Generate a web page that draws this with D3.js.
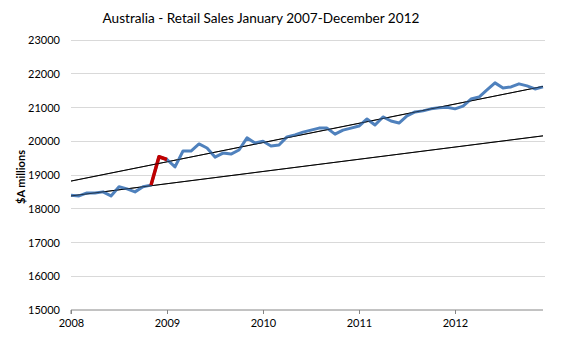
<!DOCTYPE html>
<html><head><meta charset="utf-8">
<script src="https://cdn.jsdelivr.net/npm/d3@7"></script>
<style>body{margin:0;background:#fff;} text{font-family:Lato,"Open Sans",sans-serif;}</style>
</head><body>
<svg id="c" width="567" height="340"></svg>
<script>
const title = "Australia - Retail Sales January 2007-December 2012";
const yLabel = "$A millions";
const yearLabels = ["2008","2009","2010","2011","2012"];
const yTicks = [15000,16000,17000,18000,19000,20000,21000,22000,23000];
// monthly values Jan 2008 .. Dec 2012
const sales = [18400,18380,18470,18470,18500,18380,18650,18590,18500,18650,
  18700,19540,19460,19240,19710,19710,19920,19800,19530,19650,
  19620,19740,20100,19950,20000,19860,19890,20130,20190,20270,
  20330,20390,20390,20210,20330,20390,20450,20660,20480,20720,
  20600,20540,20750,20870,20900,20960,20990,21010,20960,21040,
  21250,21310,21520,21730,21580,21610,21700,21640,21550,21610];
const highlightStart = 10, highlightEnd = 12;
const trendUpper = [[0,18820],[59,21625]];
const trendLower = [[0,18380],[59,20160]];

const svg = d3.select("#c");
const L=71, R=543, T=40, B=310;
const x = d3.scaleLinear().domain([0,59]).range([L,R]);
const y = d3.scaleLinear().domain([15000,23000]).range([B,T]);

svg.append("text").attr("x",261).attr("y",23).attr("text-anchor","middle")
  .attr("font-size",13.6).attr("fill","#000").text(title);

// gridlines
svg.append("g").selectAll("line").data(yTicks.slice(1)).join("line")
  .attr("x1",L).attr("x2",R+2).attr("y1",d=>y(d)).attr("y2",d=>y(d))
  .attr("stroke","#d9d9d9").attr("stroke-width",1).attr("shape-rendering","crispEdges");

// y labels
svg.append("g").selectAll("text").data(yTicks).join("text")
  .attr("x",60).attr("y",d=>y(d)+4).attr("text-anchor","end")
  .attr("font-size",11).attr("fill","#000").text(d=>d);
svg.append("text").attr("transform","translate(25,177) rotate(-90)")
  .attr("text-anchor","middle").attr("font-size",11).attr("font-weight","bold").text(yLabel);

// x axis
const xa = d3.axisBottom(x).tickValues([0,12,24,36,48]).tickFormat((d,i)=>yearLabels[i]).tickSize(4).tickSizeOuter(0);
const gx = svg.append("g").attr("transform",`translate(0,${B})`).call(xa);
gx.select(".domain").attr("stroke","#868686").attr("d",`M${L},4V0H${R}`);
gx.selectAll(".tick line").attr("stroke","#868686");
gx.selectAll(".tick text").attr("font-size",11).attr("fill","#000").attr("dy","0.9em")
  .attr("font-family","Lato,'Open Sans',sans-serif");

const line = d3.line().x(d=>x(d[0])).y(d=>y(d[1]));
const pts = sales.map((v,i)=>[i,v]);

[trendUpper,trendLower].forEach(t=>{
  svg.append("path").attr("d",line(t)).attr("fill","none").attr("stroke","#000").attr("stroke-width",1);
});

svg.append("path").attr("d",line(pts)).attr("fill","none").attr("stroke","#4f81bd")
  .attr("stroke-width",3).attr("stroke-linejoin","round");
svg.append("path").attr("d",line(pts.slice(highlightStart,highlightEnd+1))).attr("fill","none")
  .attr("stroke","#c00000").attr("stroke-width",3.5).attr("stroke-linejoin","round");
[trendUpper,trendLower].forEach(t=>{
  svg.append("path").attr("d",line(t)).attr("fill","none").attr("stroke","#000").attr("stroke-width",1).attr("opacity",0.6);
});
</script>
</body></html>
